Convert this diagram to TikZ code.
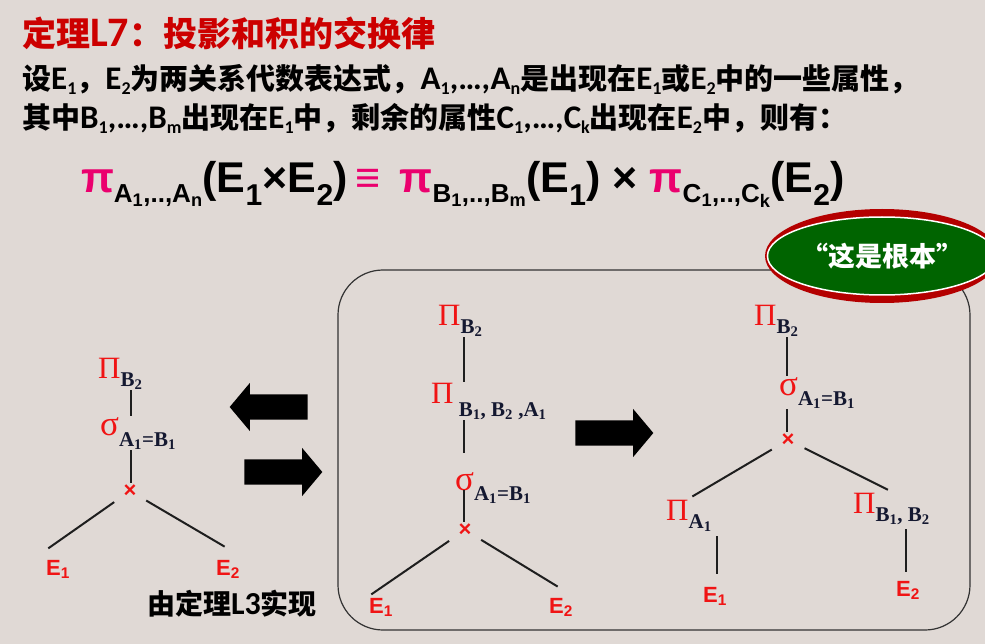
\documentclass[tikz,border=0pt]{standalone}
\usepackage{fontspec}
\setmainfont{Liberation Sans}
\newfontfamily\calib{Carlito}
\newfontfamily\tms{Liberation Serif}
\newfontfamily\cjk{Noto Sans CJK SC}
\usetikzlibrary{shapes.geometric, shapes.arrows, positioning}
\usepackage{xcolor}
\definecolor{bgPale}    {RGB}{224, 217, 213}
\definecolor{thmRed}    {RGB}{204,   0,   0}
\definecolor{piPink}    {RGB}{235,   0, 110}
\definecolor{opRed}     {RGB}{240,  20,  20}
\definecolor{attrInk}   {RGB}{ 20,  24,  48}
\definecolor{ringRed}   {RGB}{180,   0,   0}
\definecolor{badgeGreen}{RGB}{  0, 100,   0}
\definecolor{lineInk}   {RGB}{ 30,  30,  30}

\newcommand{\zh}[2][29]{{\cjk\bfseries\fontsize{#1}{#1}\selectfont #2}}
\newcommand{\lo}[1]{\raisebox{-5pt}{\fontsize{18}{18}\selectfont #1}}
\newcommand{\psub}[1]{\raisebox{-10pt}{\fontsize{26}{26}\selectfont #1}}
\newcommand{\attr}[1]{{\color{attrInk}\fontsize{21}{21}\selectfont\tms\bfseries #1}}
\newcommand{\Prj}[2][8pt]{{\color{opRed}\fontsize{31}{31}\selectfont\tms Π}\raisebox{-#1}{\attr{#2}}}
\newcommand{\Sel}[2][11pt]{{\color{opRed}\fontsize{35}{35}\selectfont\tms σ}\raisebox{-#1}{\attr{#2}}}
\newcommand{\Rel}[1]{E\textsubscript{#1}}

\begin{document}
\begin{tikzpicture}[
  x=1pt, y=-1pt,
  title/.style = {anchor=base west, inner sep=0pt, text=thmRed,
    font=\fontsize{42}{42}\selectfont\calib\bfseries},
  body/.style  = {anchor=base west, inner sep=0pt,
    font=\fontsize{33}{33}\selectfont\calib\bfseries},
  formula/.style = {anchor=base, inner sep=0pt,
    font=\fontsize{43}{47}\selectfont\bfseries},
  op/.style    = {anchor=base west, inner sep=1pt},
  cross/.style = {inner sep=1pt, text=opRed, font=\fontsize{22}{22}\selectfont\bfseries},
  rel/.style   = {anchor=base west, inner sep=1pt, text=opRed,
    font=\fontsize{22}{22}\selectfont\bfseries},
  note/.style  = {anchor=base west, inner sep=0pt,
    font=\fontsize{32}{32}\selectfont\calib\bfseries},
  edge/.style  = {line width=2pt, lineInk},
  bigarrow/.style = {single arrow, fill=black, inner xsep=0pt, inner ysep=12.5pt,
    minimum height=78pt, single arrow head extend=11.5pt,
    single arrow tip angle=100},
  frame/.style = {rounded corners=45pt, line width=1.2pt, black!80},
  ring/.style  = {ellipse, fill=ringRed, inner sep=0pt,
    minimum width=234pt, minimum height=94pt},
  badge/.style = {ellipse, fill=badgeGreen, draw=white, line width=1.5pt,
    inner sep=0pt, minimum width=198pt, minimum height=78pt, text=white,
    font=\fontsize{27}{27}\selectfont\cjk\bfseries}
]
  \fill[bgPale] (0,0) rectangle (985,644);
  \useasboundingbox (0,0) rectangle (985,644);
  \clip (0,0) rectangle (985,644);

  % heading and statement
  \node[title] (head) at (22,47) {\zh[34]{定理}L7\zh[34]{：投影和积的交换律}};
  \node[body] (line1) at (22,90) {\zh{设}E\lo{1}\zh{，}E\lo{2}\zh{为两关系代数表达式，}A\lo{1},…,A\lo{n}\zh{是出现在}E\lo{1}\zh{或}E\lo{2}\zh{中的一些属性，}};
  \node[body] (line2) at (22,129) {\zh{其中}B\lo{1},…,B\lo{m}\zh{出现在}E\lo{1}\zh{中，剩余的属性}C\lo{1},…,C\lo{k}\zh{出现在}E\lo{2}\zh{中，则有：}};
  \node[formula] (law) at (463,193) {\textcolor{piPink}{π}\psub{A\textsubscript{1},..,A\textsubscript{n}}(E\textsubscript{1}×E\textsubscript{2})\,\textcolor{piPink}{≡}\, \textcolor{piPink}{π}\psub{B\textsubscript{1},..,B\textsubscript{m}}(E\textsubscript{1}) × \textcolor{piPink}{π}\psub{C\textsubscript{1},..,C\textsubscript{k}}(E\textsubscript{2})};

  % left tree
  \coordinate (lx) at (131,0);
  \node[op] (lpb) at (97,378) {\Prj{B\textsubscript{2}}};
  \node[op] (lsel) at (99,435) {\Sel{A\textsubscript{1}=B\textsubscript{1}}};
  \node[cross] (lcross) at (130,491) {×};
  \node[rel] (le1) at (45,575) {\Rel{1}};
  \node[rel] (le2) at (215,575) {\Rel{2}};
  \node[note] (lnote) at (147,614) {\zh[28]{由定理}L3\zh[28]{实现}};
  \draw[edge] (lpb.south -| lx) -- (lsel.north -| lx);
  \draw[edge] (lsel.south -| lx) -- (lcross.north -| lx);
  \draw[edge, shorten <=10pt, shorten >=4pt] (lcross) -- ([yshift=8pt]le1.north west);
  \draw[edge, shorten <=10pt, shorten >=4pt] (lcross) -- ([yshift=10pt]le2.north);

  % the two rewriting arrows
  \node[bigarrow, shape border rotate=180] (back) at (274,407) {};
  \node[bigarrow] (forth) at (278,472) {};

  % framed derivation
  \draw[frame] (338,270) rectangle (970,630);

  % middle tree
  \coordinate (mx) at (464,0);
  \node[op] (mpb) at (437,325) {\Prj{B\textsubscript{2}}};
  \node[op] (mpp) at (430,403) {\Prj[13pt]{\ B\textsubscript{1}, B\textsubscript{2} ,A\textsubscript{1}}};
  \node[op] (msel) at (454,490) {\Sel[10pt]{A\textsubscript{1}=B\textsubscript{1}}};
  \node[cross] (mcross) at (465,530) {×};
  \node[rel] (me1) at (368,613) {\Rel{1}};
  \node[rel] (me2) at (548,613) {\Rel{2}};
  \draw[edge] (mpb.south -| mx) -- (mpp.north -| mx);
  \draw[edge, shorten >=18pt] (mpp.south -| mx) -- (msel.north -| mx);
  \draw[edge, shorten <=-14pt] (msel.south -| mx) -- (mcross.north -| mx);
  \draw[edge, shorten <=10pt, shorten >=4pt] (mcross) -- (me1.north west);
  \draw[edge, shorten <=10pt, shorten >=4pt] (mcross) -- ([yshift=8pt]me2.north);

  \node[bigarrow] (ahead) at (609,433) {};

  % right tree
  \coordinate (rx) at (787,0);
  \coordinate (rxa) at (717,0);
  \coordinate (rxb) at (906,0);
  \node[op] (rpb) at (753,325) {\Prj{B\textsubscript{2}}};
  \node[op] (rsel) at (778,395) {\Sel[10pt]{A\textsubscript{1}=B\textsubscript{1}}};
  \node[cross] (rcross) at (788,440) {×};
  \node[op] (rpa) at (665,520) {\Prj{A\textsubscript{1}}};
  \node[op] (rpbb) at (852,513) {\Prj{B\textsubscript{1}, B\textsubscript{2}}};
  \node[rel] (re1) at (702,602) {\Rel{1}};
  \node[rel] (re2) at (895,596) {\Rel{2}};
  \draw[edge] (rpb.south -| rx) -- (rsel.north -| rx);
  \draw[edge] (rsel.south -| rx) -- (rcross.north -| rx);
  \draw[edge, shorten <=10pt, shorten >=4pt] (rcross) -- (rpa.north);
  \draw[edge, shorten <=10pt, shorten >=4pt] (rcross) -- (rpbb.north);
  \draw[edge, shorten <=4pt, shorten >=12pt] (rpa.south -| rxa) -- (re1.north -| rxa);
  \draw[edge, shorten <=4pt, shorten >=8pt] (rpbb.south -| rxb) -- (re2.north -| rxb);

  % badge over the frame corner
  \node[ring] (badgering) at (882,256) {};
  \node[badge] (badge) at (882,256) {“这是根本”};
\end{tikzpicture}
\end{document}
